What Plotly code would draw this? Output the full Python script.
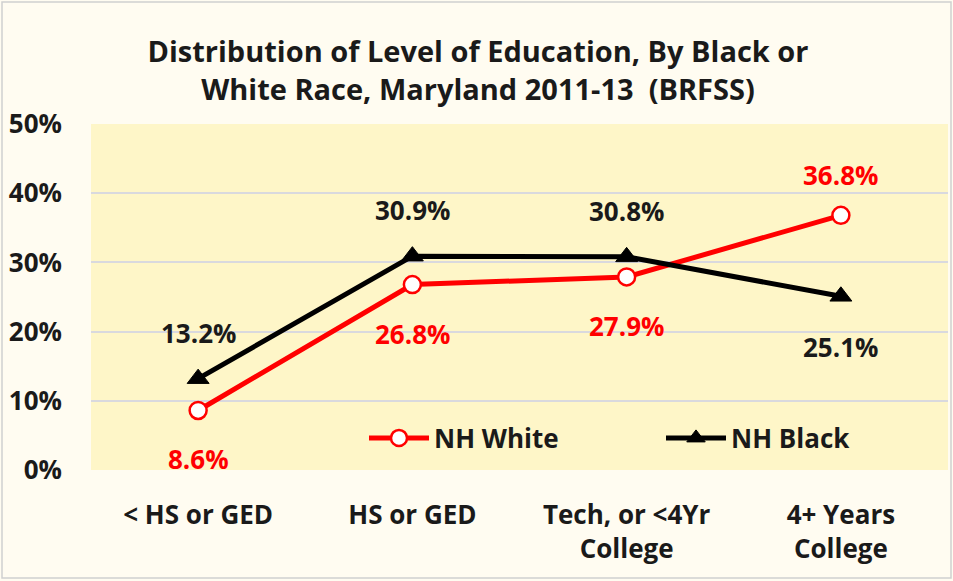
import plotly.graph_objects as go

categories = ["< HS or GED", "HS or GED", "Tech, or <4Yr<br>College", "4+ Years<br>College"]
white_vals = [8.6, 26.8, 27.9, 36.8]
black_vals = [13.2, 30.9, 30.8, 25.1]
white_label_pos = ["below", "below", "below", "above"]
black_label_pos = ["above", "above", "above", "below"]
y_ticks = [0, 10, 20, 30, 40, 50]
y_tick_labels = ["0%", "10%", "20%", "30%", "40%", "50%"]

FONT = "Open Sans"
W, H = 953, 581
L, R, T, B = 91, 5, 124, 111
pw = W - L - R
ph = H - T - B

fig = go.Figure()
fig.add_trace(go.Scatter(
    x=categories, y=white_vals, name="NH White", mode="lines+markers",
    line=dict(color="#FF0000", width=5),
    marker=dict(symbol="circle", size=17, color="white", line=dict(color="#FF0000", width=2.5)),
))
fig.add_trace(go.Scatter(
    x=categories, y=black_vals, name="NH Black", mode="lines+markers",
    line=dict(color="#000000", width=5),
    marker=dict(symbol="triangle-up", size=19, color="#000000", line=dict(color="#000000", width=1)),
))

for cat, v, pos in zip(categories, white_vals, white_label_pos):
    fig.add_annotation(x=cat, y=v, text=f"{v:.1f}%", showarrow=False,
                       yshift=-49 if pos == "below" else 40,
                       font=dict(family=FONT, size=26, color="#FF0000", weight="bold"))
for cat, v, pos in zip(categories, black_vals, black_label_pos):
    fig.add_annotation(x=cat, y=v, text=f"{v:.1f}%", showarrow=False,
                       yshift=-51 if pos == "below" else 46,
                       font=dict(family=FONT, size=26, color="#1A1A1A", weight="bold"))

# chart border
fig.add_shape(type="rect", xref="paper", yref="paper",
              x0=(2 - L) / pw, x1=(951 - L) / pw,
              y0=-(578 - T - ph) / ph, y1=(T + ph - 2) / ph,
              line=dict(color="#D0D0D0", width=1.5), fillcolor="rgba(0,0,0,0)", layer="below")

fig.update_layout(
    width=W, height=H,
    margin=dict(l=L, r=R, t=T, b=B, autoexpand=False),
    paper_bgcolor="#FFFCF1",
    plot_bgcolor="#FEF6C8",
    font=dict(family=FONT, color="#1A1A1A"),
    title=dict(text="Distribution of Level of Education, By Black or<br>White Race, Maryland 2011-13  (BRFSS)",
               x=(478) / W, xanchor="center", y=1 - 62 / H, yanchor="middle",
               font=dict(family=FONT, size=29, color="#1A1A1A", weight="bold")),
    showlegend=True,
    legend=dict(orientation="h", x=(364 - L) / pw, xanchor="left", y=(470 - 438) / ph, yanchor="middle",
                bgcolor="rgba(0,0,0,0)", entrywidth=222, entrywidthmode="pixels", itemwidth=60,
                font=dict(family=FONT, size=26, color="#1A1A1A", weight="bold")),
    xaxis=dict(type="category", range=[-0.5, 3.5], showgrid=False, showline=False, zeroline=False,
               automargin=False, ticks="", ticklabelstandoff=27,
               tickfont=dict(family=FONT, size=26, color="#1A1A1A", weight="bold")),
    yaxis=dict(range=[0, 50], tickvals=y_ticks, ticktext=y_tick_labels, showgrid=True, automargin=False,
               gridcolor="#D9D9DE", gridwidth=1.5, zeroline=False, showline=False,
               ticks="", ticklabelstandoff=28,
               tickfont=dict(family=FONT, size=26, color="#1A1A1A", weight="bold")),
)

fig.write_html("out.html", config={"displayModeBar": False},
               post_script="document.body.style.margin='0';document.body.style.overflow='hidden';")
